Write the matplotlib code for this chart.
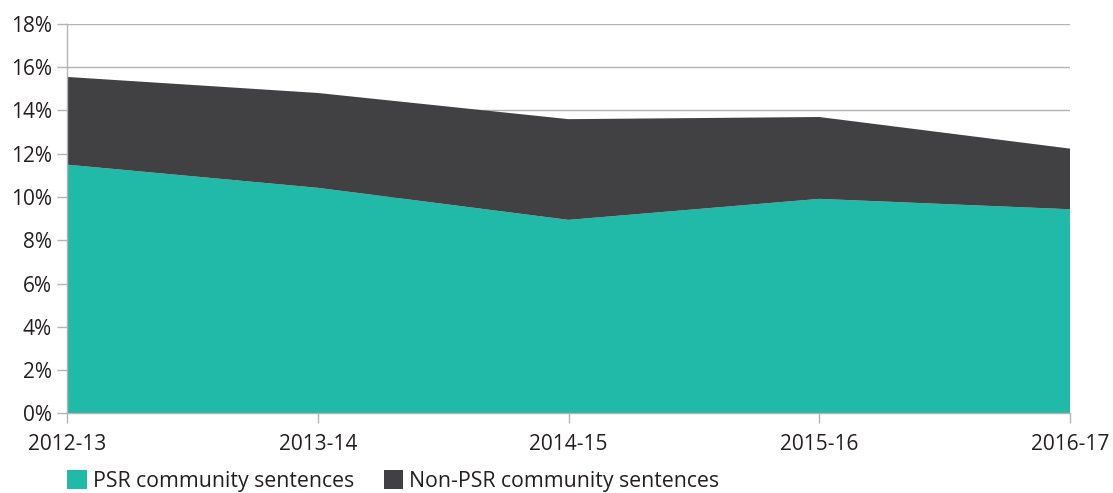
import matplotlib.pyplot as plt
from matplotlib.patches import Patch
from matplotlib.ticker import FuncFormatter

years = ["2012-13", "2013-14", "2014-15", "2015-16", "2016-17"]
psr = [11.49, 10.42, 8.94, 9.91, 9.43]
non_psr = [4.05, 4.38, 4.65, 3.78, 2.80]
series_names = ["PSR community sentences", "Non-PSR community sentences"]
colors = ["#21b9a7", "#414042"]

plt.rcParams["font.family"] = ["Open Sans", "DejaVu Sans"]
text_color = "#231f20"
grid_color = "#b3b3b3"

fig = plt.figure(figsize=(11.13, 4.93), dpi=100)
ax = fig.add_axes([0.0602, 0.1613, 0.9012, 0.7907])

x = list(range(len(years)))
ax.stackplot(x, psr, non_psr, colors=colors, linewidth=0, zorder=2)

ax.set_xlim(0, len(years) - 1)
ax.set_ylim(0, 18)
ax.set_yticks(range(0, 19, 2))
ax.yaxis.set_major_formatter(FuncFormatter(lambda v, p: f"{v:.0f}%"))
ax.set_xticks(x)
ax.set_xticklabels(years)

ax.grid(axis="y", color=grid_color, linewidth=1, zorder=0)
for side in ["top", "right"]:
    ax.spines[side].set_visible(False)
for side in ["left", "bottom"]:
    ax.spines[side].set_color(grid_color)
    ax.spines[side].set_linewidth(1)

ax.tick_params(axis="y", length=7, width=1, color=grid_color, labelsize=15,
               labelcolor=text_color, pad=4)
ax.tick_params(axis="x", length=7, width=1, color=grid_color, labelsize=15,
               labelcolor=text_color, pad=8)

# legend under the plot, aligned with the y axis
handles = [Patch(facecolor=c, edgecolor="none") for c in colors]
fig.legend(handles, series_names, loc="lower left", bbox_to_anchor=(0.0434, -0.036),
           ncol=2, frameon=False, fontsize=15.3, handlelength=0.9, handleheight=1.0,
           handletextpad=0.3, columnspacing=1.4, labelcolor=text_color)

fig.savefig("out.png", dpi=100)
